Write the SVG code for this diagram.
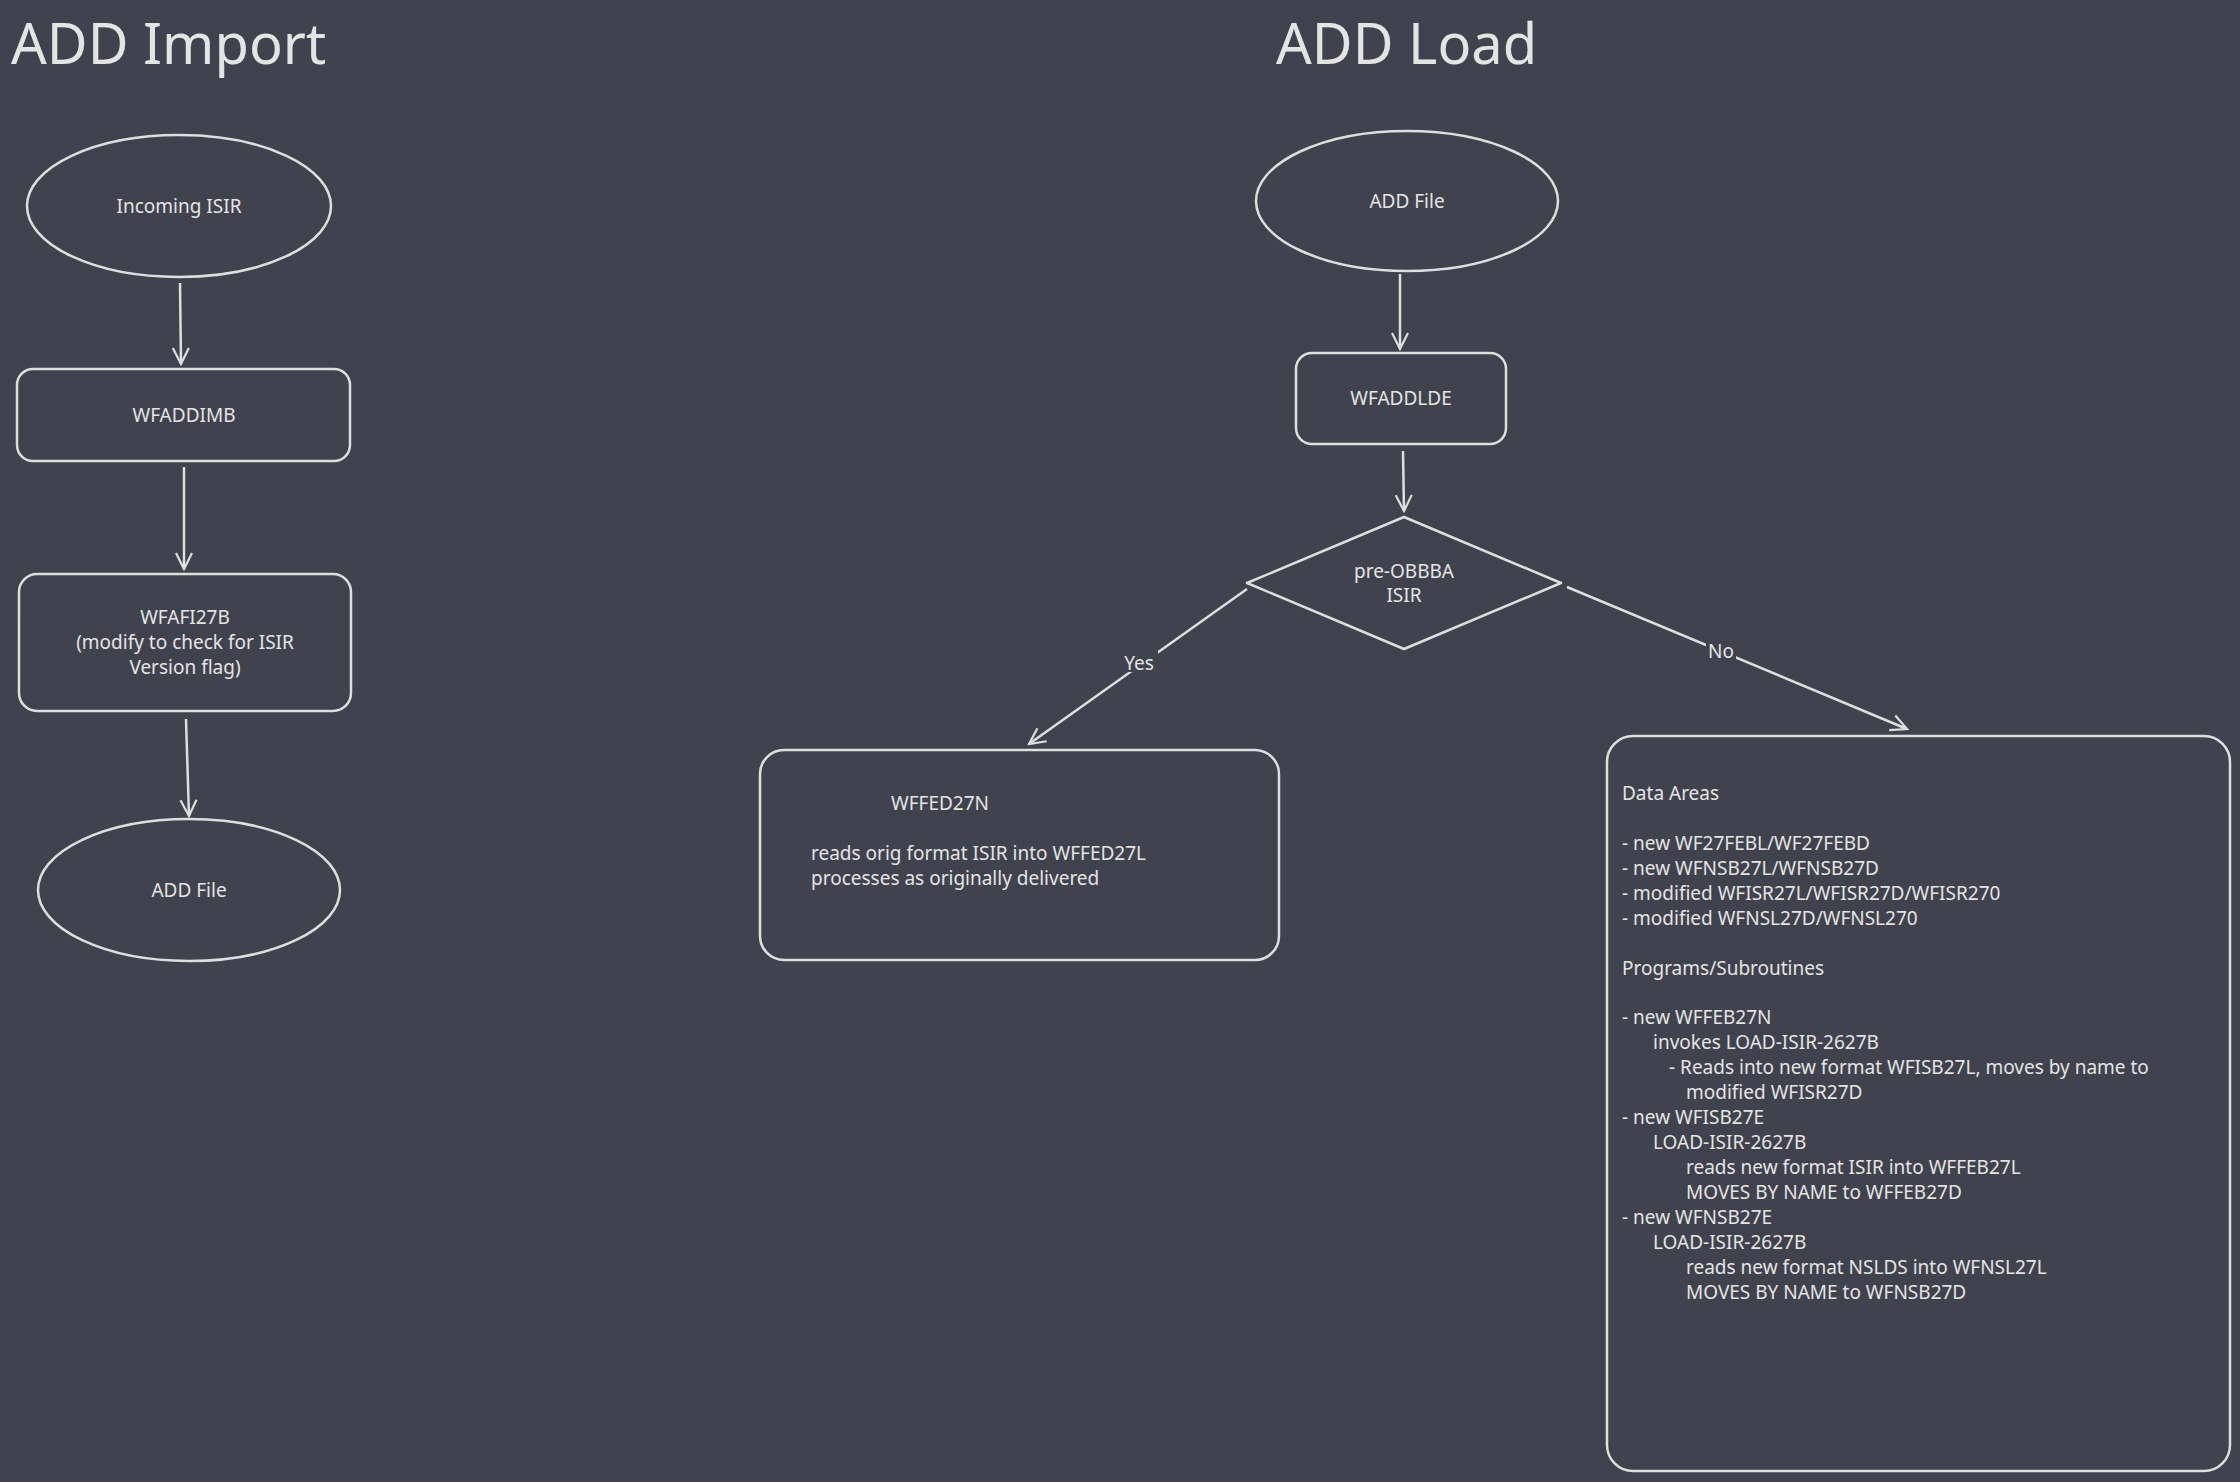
<svg xmlns="http://www.w3.org/2000/svg" width="2240" height="1482" viewBox="0 0 2240 1482">
<defs>
<style>
.s{fill:none;stroke:#dedede;stroke-width:2.5}
.t{fill:#e4e4e4;font-family:"Noto Sans","DejaVu Sans",sans-serif;font-size:19px}
.c{text-anchor:middle}
.h{fill:#e4e4e4;font-family:"Noto Sans","DejaVu Sans",sans-serif;font-size:56px}
.e{fill:none;stroke:#dedede;stroke-width:2.5;marker-end:url(#a)}
</style>
<marker id="a" viewBox="0 0 20 20" refX="18" refY="10" markerWidth="20" markerHeight="20" markerUnits="userSpaceOnUse" orient="auto">
<path d="M2,2 L18,10 L2,18" fill="none" stroke="#dedede" stroke-width="2.2"/>
</marker>
</defs>
<rect width="2240" height="1482" fill="#40434e"/>
<text class="h" x="11" y="64">ADD Import</text>
<text class="h" x="1276" y="64">ADD Load</text>
<g id="incoming"><ellipse class="s" cx="179" cy="206" rx="152" ry="71"/><text class="t c" x="179" y="213">Incoming ISIR</text></g>
<g id="wfaddimb"><rect class="s" x="17" y="369" width="333" height="92" rx="16"/><text class="t c" x="184" y="422">WFADDIMB</text></g>
<g id="wfafi27b"><rect class="s" x="19" y="574" width="332" height="137" rx="18"/>
<text class="t c" x="185" y="624">WFAFI27B</text><text class="t c" x="185" y="649">(modify to check for ISIR</text><text class="t c" x="185" y="674">Version flag)</text></g>
<g id="addfile1"><ellipse class="s" cx="189" cy="890" rx="151" ry="71"/><text class="t c" x="189" y="897">ADD File</text></g>
<g id="addfile2"><ellipse class="s" cx="1407" cy="201" rx="151" ry="70"/><text class="t c" x="1407" y="208">ADD File</text></g>
<g id="wfaddlde"><rect class="s" x="1296" y="353" width="210" height="91" rx="16"/><text class="t c" x="1401" y="405">WFADDLDE</text></g>
<g id="decision"><path class="s" d="M1404,517 L1561,583 L1404,649 L1247,583 Z" stroke-linejoin="round"/>
<text class="t c" x="1404" y="578">pre-OBBBA</text><text class="t c" x="1404" y="602">ISIR</text></g>
<g id="wffed27n"><rect class="s" x="760" y="750" width="519" height="210" rx="24"/>
<text class="t" x="891" y="810">WFFED27N</text>
<text class="t" x="811" y="860">reads orig format ISIR into WFFED27L</text>
<text class="t" x="811" y="885">processes as originally delivered</text></g>
<g id="notes"><rect class="s" x="1607" y="736" width="623" height="735" rx="26"/>
<g class="t">
<text x="1622" y="800">Data Areas</text>
<text x="1622" y="850">- new WF27FEBL/WF27FEBD</text>
<text x="1622" y="875">- new WFNSB27L/WFNSB27D</text>
<text x="1622" y="900">- modified WFISR27L/WFISR27D/WFISR270</text>
<text x="1622" y="925">- modified WFNSL27D/WFNSL270</text>
<text x="1622" y="975">Programs/Subroutines</text>
<text x="1622" y="1024">- new WFFEB27N</text>
<text x="1653" y="1049">invokes LOAD-ISIR-2627B</text>
<text x="1669" y="1074">- Reads into new format WFISB27L, moves by name to</text>
<text x="1686" y="1099">modified WFISR27D</text>
<text x="1622" y="1124">- new WFISB27E</text>
<text x="1653" y="1149">LOAD-ISIR-2627B</text>
<text x="1686" y="1174">reads new format ISIR into WFFEB27L</text>
<text x="1686" y="1199">MOVES BY NAME to WFFEB27D</text>
<text x="1622" y="1224">- new WFNSB27E</text>
<text x="1653" y="1249">LOAD-ISIR-2627B</text>
<text x="1686" y="1274">reads new format NSLDS into WFNSL27L</text>
<text x="1686" y="1299">MOVES BY NAME to WFNSB27D</text>
</g></g>
<g id="connectors">
<path class="e" d="M180,283 L181,364"/>
<path class="e" d="M184,467 L184,569"/>
<path class="e" d="M186,719 L189,816"/>
<path class="e" d="M1400,274 L1400,349"/>
<path class="e" d="M1403,451 L1404,511"/>
<path class="e" d="M1247,589 L1029,744"/>
<path class="e" d="M1567,587 L1907,729"/>
<rect x="1120" y="648" width="38" height="24" fill="#40434e"/>
<text class="t c" x="1139" y="670">Yes</text>
<rect x="1706" y="638" width="30" height="24" fill="#40434e"/>
<text class="t c" x="1721" y="658">No</text>
</g>
</svg>
